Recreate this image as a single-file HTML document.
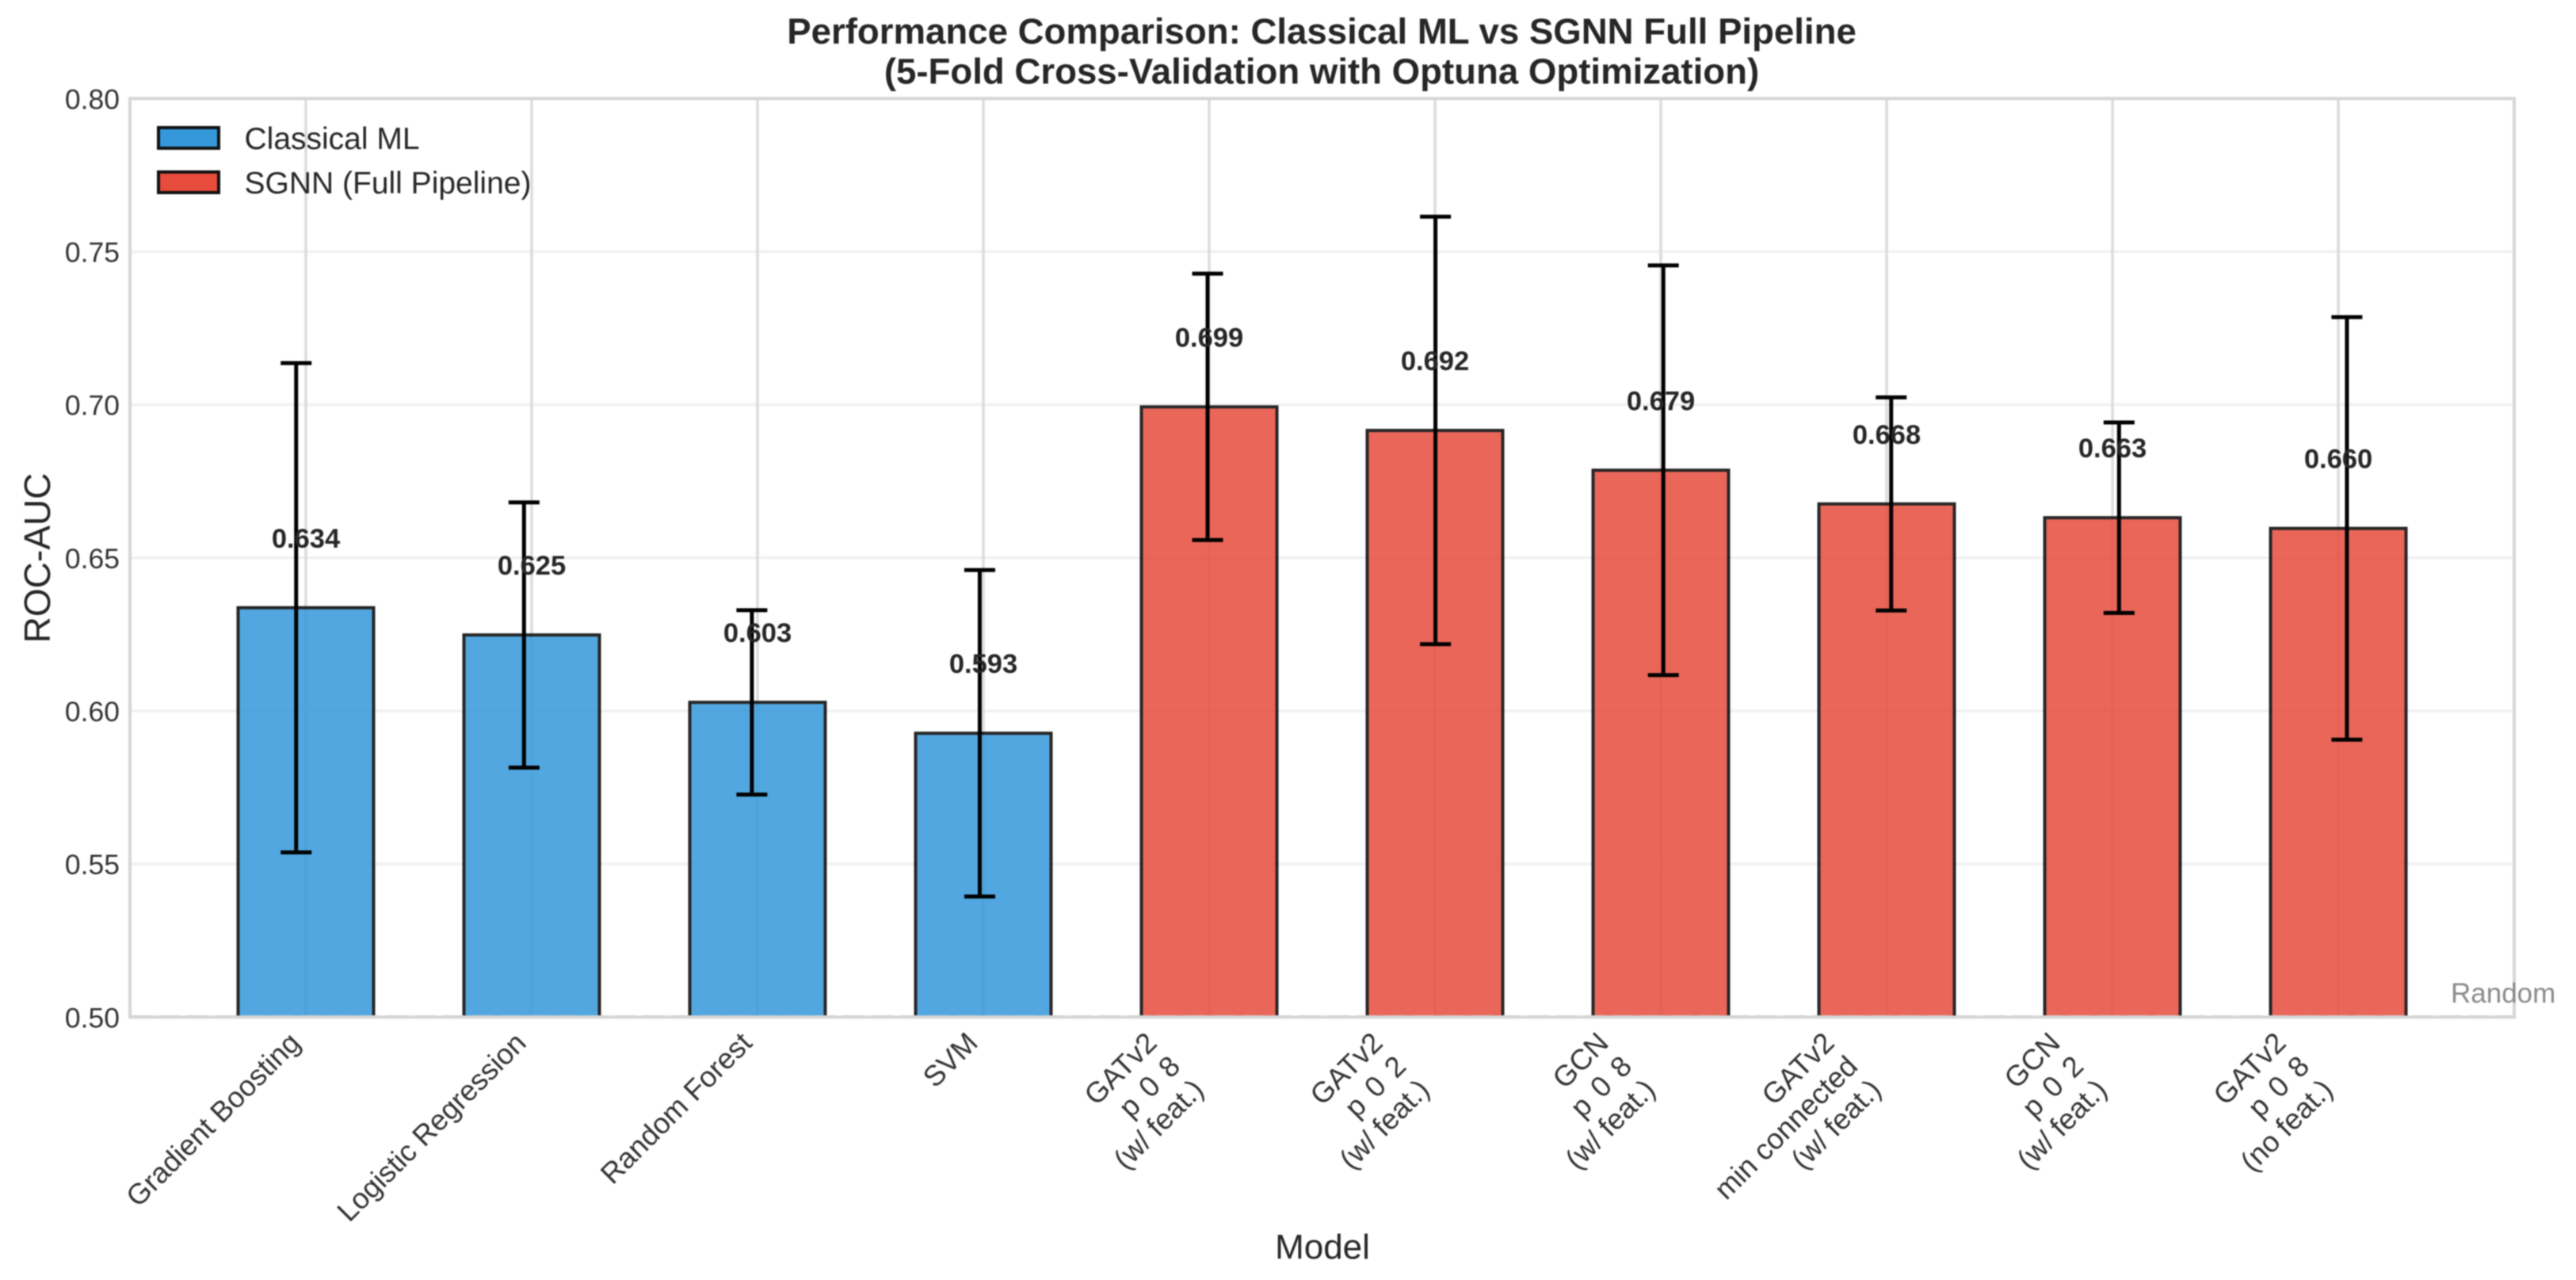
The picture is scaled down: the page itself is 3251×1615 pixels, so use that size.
<!DOCTYPE html>
<html lang="en">
<head>
<meta charset="utf-8">
<title>Performance Comparison: Classical ML vs SGNN Full Pipeline</title>
<style>
  html, body { margin: 0; padding: 0; background: #ffffff; }
  body { width: 3251px; height: 1615px; overflow: hidden; }
  svg { display: block; filter: blur(0.9px); font-family: "Liberation Sans", sans-serif; }
</style>
</head>
<body>
<svg id="chart" xmlns="http://www.w3.org/2000/svg" width="3251" height="1615" viewBox="0 0 3251 1615">
  <defs>
    <clipPath id="plot-clip"><rect x="164" y="124" width="3009" height="1159.3"></rect></clipPath>
  </defs>
  <rect x="0" y="0" width="3251" height="1615" fill="#ffffff"></rect>
  <g id="grid-layer"></g>
  <g id="bar-layer" clip-path="url(#plot-clip)"></g>
  <g id="baseline-layer"></g>
  <g id="spine-layer" fill="none" stroke="#d6d6d6" stroke-width="4">
    <rect x="164" y="124.3" width="3009" height="1159"></rect>
  </g>
  <g id="error-layer"></g>
  <g id="value-layer"></g>
  <g id="ytick-layer"></g>
  <g id="xtick-layer"></g>

  <text x="1668" y="55" text-anchor="middle" font-size="45.6" font-weight="700" fill="#262626">Performance Comparison: Classical ML vs SGNN Full Pipeline</text>
  <text x="1668" y="105.5" text-anchor="middle" font-size="45.6" font-weight="700" fill="#262626">(5-Fold Cross-Validation with Optuna Optimization)</text>

  <text transform="translate(63 704) rotate(-90)" text-anchor="middle" font-size="46" fill="#262626">ROC-AUC</text>
  <text x="1669" y="1588" text-anchor="middle" font-size="44" fill="#262626">Model</text>

  <g>
    <g>
      <rect x="200" y="161" width="76" height="26" fill="#3498db" stroke="#111111" stroke-width="4"></rect>
      <text x="308.5" y="188" font-size="39" fill="#262626">Classical ML</text>
    </g>
    <g>
      <rect x="200" y="217" width="76" height="26" fill="#e74c3c" stroke="#111111" stroke-width="4"></rect>
      <text x="308.5" y="244" font-size="39" fill="#262626">SGNN (Full Pipeline)</text>
    </g>
  </g>

  <text x="3093" y="1265" font-size="35" fill="#8a8a8a">Random</text>
</svg>

<script>
// ---- Chart data ----
const categories = [
  "Gradient Boosting",
  "Logistic Regression",
  "Random Forest",
  "SVM",
  "GATv2\np 0 8\n(w/ feat.)",
  "GATv2\np 0 2\n(w/ feat.)",
  "GCN\np 0 8\n(w/ feat.)",
  "GATv2\nmin connected\n(w/ feat.)",
  "GCN\np 0 2\n(w/ feat.)",
  "GATv2\np 0 8\n(no feat.)"
];
const seriesGroups = ["classical", "classical", "classical", "classical", "sgnn", "sgnn", "sgnn", "sgnn", "sgnn", "sgnn"];
const meanValues = [0.6337, 0.6248, 0.6028, 0.5927, 0.6993, 0.6916, 0.6786, 0.6676, 0.6631, 0.6596];
const stdValues = [0.0799, 0.0433, 0.0301, 0.0533, 0.0435, 0.0698, 0.0669, 0.0348, 0.0311, 0.0690];
const yTickValues = [0.50, 0.55, 0.60, 0.65, 0.70, 0.75, 0.80];
const randomBaseline = 0.5;
const barBase = 0.49;

// ---- Axis functions ----
const yAxisZero = 1283.3, yAxisScale = 3863.3;
const xAxisStart = 386, xAxisStep = 285;
const errStart = 373.75, errStep = 287.57;
const barWidthUnits = 0.6;
function yScale(v) { return yAxisZero - (v - 0.5) * yAxisScale; }
function xScale(i) { return xAxisStart + i * xAxisStep; }
function errX(i) { return errStart + i * errStep; }

const SVGNS = "http://www.w3.org/2000/svg";
function make(tag, attrs, parent) {
  const el = document.createElementNS(SVGNS, tag);
  for (const k in attrs) el.setAttribute(k, attrs[k]);
  parent.appendChild(el);
  return el;
}
function slug(s) { return s.toLowerCase().replace(/[^a-z0-9]+/g, "-").replace(/^-|-$/g, ""); }

const gridLayer = document.getElementById("grid-layer");
const barLayer = document.getElementById("bar-layer");
const baselineLayer = document.getElementById("baseline-layer");
const errorLayer = document.getElementById("error-layer");
const valueLayer = document.getElementById("value-layer");
const ytickLayer = document.getElementById("ytick-layer");
const xtickLayer = document.getElementById("xtick-layer");

const colors = { classical: "#3498db", sgnn: "#e74c3c" };

// Horizontal grid + y tick labels
yTickValues.forEach(function (t) {
  const line = make("line", { x1: 164, x2: 3173, y1: yScale(t), y2: yScale(t), stroke: "#f1f1f1", "stroke-width": 3.5 }, gridLayer);
  
  
  const label = make("text", { x: 151, y: yScale(t) + 13, "text-anchor": "end", "font-size": 35.5, fill: "#333333" }, ytickLayer);
  
  
  label.textContent = t.toFixed(2);
});

// Vertical grid
categories.forEach(function (c, i) {
  const line = make("line", { x1: xScale(i), x2: xScale(i), y1: 124, y2: 1283, stroke: "#dcdcdc", "stroke-width": 3.5 }, gridLayer);
  
  
});

// Bars
categories.forEach(function (c, i) {
  const w = barWidthUnits * xAxisStep;
  const bar = make("rect", {
    x: xScale(i) - w / 2, y: yScale(meanValues[i]), width: w,
    height: yScale(barBase) - yScale(meanValues[i]),
    fill: colors[seriesGroups[i]], stroke: "#000000", "stroke-width": 4, opacity: 0.85
  }, barLayer);
  
  
});

// Random baseline
const baseLine = make("line", {
  x1: 164, x2: 3173, y1: yScale(randomBaseline) - 1, y2: yScale(randomBaseline) - 1,
  stroke: "#c4c4c4", "stroke-width": 2.5, "stroke-dasharray": "26 10"
}, baselineLayer);



// Error bars
categories.forEach(function (c, i) {
  const x = errX(i);
  const hi = yScale(meanValues[i] + stdValues[i]);
  const lo = yScale(meanValues[i] - stdValues[i]);
  const stem = make("line", { x1: x, x2: x, y1: hi, y2: lo, stroke: "#000000", "stroke-width": 5 }, errorLayer);
  
  
  const capTop = make("line", { x1: x - 19.5, x2: x + 19.5, y1: hi, y2: hi, stroke: "#000000", "stroke-width": 5 }, errorLayer);
  
  
  const capBottom = make("line", { x1: x - 19.5, x2: x + 19.5, y1: lo, y2: lo, stroke: "#000000", "stroke-width": 5 }, errorLayer);
  
  
});

// Value labels
categories.forEach(function (c, i) {
  const label = make("text", {
    x: xScale(i), y: yScale(meanValues[i]) - 76, "text-anchor": "middle",
    "font-size": 34.5, "font-weight": 700, fill: "#262626"
  }, valueLayer);
  
  
  label.textContent = meanValues[i].toFixed(3);
});

// Category tick labels (rotated 45deg, right aligned)
const tickAnchorDx = -5, tickAnchorY = 1318, lineStep = 29.5;
categories.forEach(function (c, i) {
  const lines = c.split("\n");
  const group = make("g", {}, xtickLayer);
  
  
  lines.forEach(function (txt, k) {
    const ax = xScale(i) + tickAnchorDx - (lines.length - 1 - k) * lineStep;
    const ay = tickAnchorY + k * lineStep;
    const t = make("text", {
      transform: "translate(" + ax + " " + ay + ") rotate(-45)",
      "text-anchor": "end", "font-size": 36.5, fill: "#333333",
      "word-spacing": txt.indexOf("p ") === 0 ? 5 : 0
    }, group);
    
    
    t.textContent = txt;
  });
});
</script>
</body>
</html>
